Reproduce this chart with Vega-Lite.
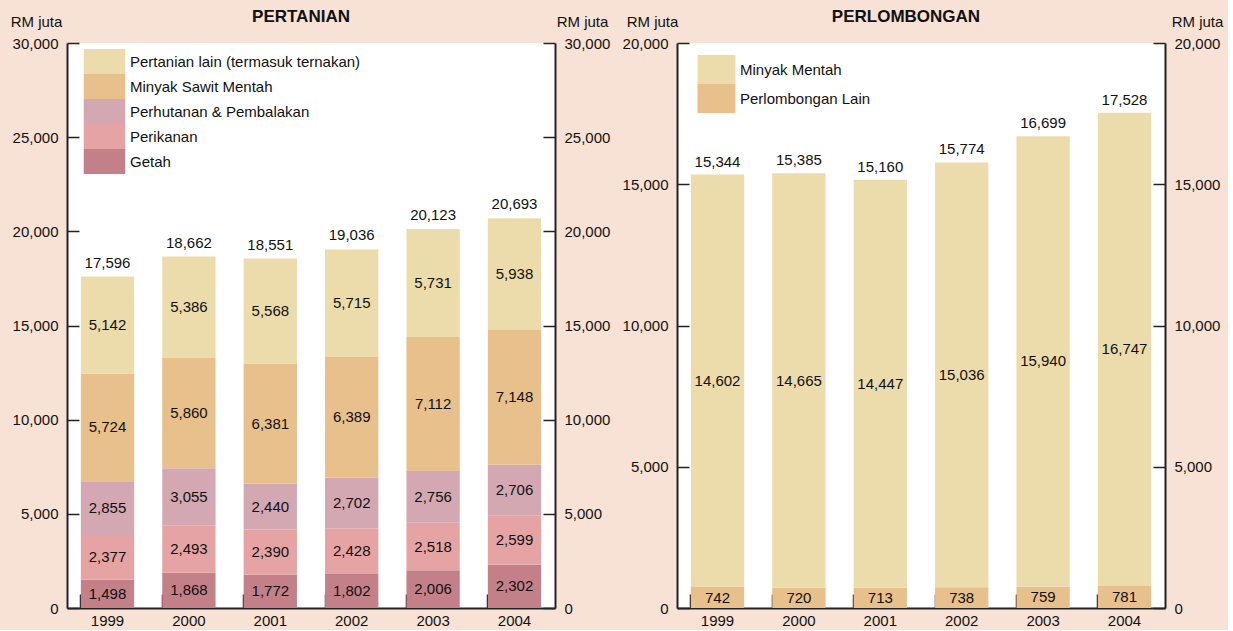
{
  "$schema": "https://vega.github.io/schema/vega-lite/v6.json",
  "background": "#f7e2d5",
  "padding": {"left": 10, "top": 8, "right": 5, "bottom": 2},
  "spacing": 12,
  "config": {
    "font": "Liberation Sans",
    "view": {"stroke": null, "fill": "white"},
    "axis": {
      "domainColor": "#222222",
      "domainWidth": 2,
      "tickColor": "#222222",
      "tickWidth": 1.5,
      "labelFont": "Liberation Sans",
      "labelFontSize": 15,
      "labelColor": "#111111",
      "labelFlush": false,
      "labelOverlap": false,
      "grid": false,
      "titleFont": "Liberation Sans",
      "titleFontSize": 15,
      "titleFontWeight": "normal",
      "titleColor": "#111111"
    },
    "legend": {
      "labelFont": "Liberation Sans",
      "labelFontSize": 15,
      "labelColor": "#111111",
      "labelLimit": 320,
      "padding": 0,
      "symbolStrokeWidth": 0,
      "symbolOpacity": 1
    },
    "title": {
      "font": "Liberation Sans",
      "fontSize": 17,
      "fontWeight": "bold",
      "color": "#111111",
      "frame": "group",
      "offset": -12,
      "anchor": "middle"
    },
    "text": {"font": "Liberation Sans", "fontSize": 15, "color": "#111111"}
  },
  "resolve": {"scale": {"color": "independent"}, "legend": {"color": "independent"}},
  "hconcat": [
    {
      "width": 488,
      "height": 565,
      "title": {"text": "PERTANIAN", "dx": -10},
      "data": {
        "values": [
          {"tahun": "1999", "jenis": "Getah", "nilai": 1498, "urutan": 1},
          {"tahun": "2000", "jenis": "Getah", "nilai": 1868, "urutan": 1},
          {"tahun": "2001", "jenis": "Getah", "nilai": 1772, "urutan": 1},
          {"tahun": "2002", "jenis": "Getah", "nilai": 1802, "urutan": 1},
          {"tahun": "2003", "jenis": "Getah", "nilai": 2006, "urutan": 1},
          {"tahun": "2004", "jenis": "Getah", "nilai": 2302, "urutan": 1},
          {"tahun": "1999", "jenis": "Perikanan", "nilai": 2377, "urutan": 2},
          {"tahun": "2000", "jenis": "Perikanan", "nilai": 2493, "urutan": 2},
          {"tahun": "2001", "jenis": "Perikanan", "nilai": 2390, "urutan": 2},
          {"tahun": "2002", "jenis": "Perikanan", "nilai": 2428, "urutan": 2},
          {"tahun": "2003", "jenis": "Perikanan", "nilai": 2518, "urutan": 2},
          {"tahun": "2004", "jenis": "Perikanan", "nilai": 2599, "urutan": 2},
          {"tahun": "1999", "jenis": "Perhutanan & Pembalakan", "nilai": 2855, "urutan": 3},
          {"tahun": "2000", "jenis": "Perhutanan & Pembalakan", "nilai": 3055, "urutan": 3},
          {"tahun": "2001", "jenis": "Perhutanan & Pembalakan", "nilai": 2440, "urutan": 3},
          {"tahun": "2002", "jenis": "Perhutanan & Pembalakan", "nilai": 2702, "urutan": 3},
          {"tahun": "2003", "jenis": "Perhutanan & Pembalakan", "nilai": 2756, "urutan": 3},
          {"tahun": "2004", "jenis": "Perhutanan & Pembalakan", "nilai": 2706, "urutan": 3},
          {"tahun": "1999", "jenis": "Minyak Sawit Mentah", "nilai": 5724, "urutan": 4},
          {"tahun": "2000", "jenis": "Minyak Sawit Mentah", "nilai": 5860, "urutan": 4},
          {"tahun": "2001", "jenis": "Minyak Sawit Mentah", "nilai": 6381, "urutan": 4},
          {"tahun": "2002", "jenis": "Minyak Sawit Mentah", "nilai": 6389, "urutan": 4},
          {"tahun": "2003", "jenis": "Minyak Sawit Mentah", "nilai": 7112, "urutan": 4},
          {"tahun": "2004", "jenis": "Minyak Sawit Mentah", "nilai": 7148, "urutan": 4},
          {"tahun": "1999", "jenis": "Pertanian lain (termasuk ternakan)", "nilai": 5142, "urutan": 5},
          {"tahun": "2000", "jenis": "Pertanian lain (termasuk ternakan)", "nilai": 5386, "urutan": 5},
          {"tahun": "2001", "jenis": "Pertanian lain (termasuk ternakan)", "nilai": 5568, "urutan": 5},
          {"tahun": "2002", "jenis": "Pertanian lain (termasuk ternakan)", "nilai": 5715, "urutan": 5},
          {"tahun": "2003", "jenis": "Pertanian lain (termasuk ternakan)", "nilai": 5731, "urutan": 5},
          {"tahun": "2004", "jenis": "Pertanian lain (termasuk ternakan)", "nilai": 5938, "urutan": 5}
        ]
      },
      "layer": [
        {
          "mark": {"type": "bar"},
          "encoding": {
            "x": {
              "field": "tahun", "type": "nominal",
              "scale": {"paddingInner": 0.345, "paddingOuter": 0.17},
              "axis": {"title": null, "labelAngle": 0, "bandPosition": 0, "tickSize": -14, "labelPadding": 19}
            },
            "y": {
              "field": "nilai", "type": "quantitative", "stack": "zero",
              "scale": {"domain": [0, 30000], "nice": false},
              "axis": {
                "orient": "left", "values": [0, 5000, 10000, 15000, 20000, 25000, 30000], "format": ",.0f",
                "tickSize": -12, "labelPadding": 21,
                "title": "RM juta", "titleAngle": 0, "titleAlign": "center", "titleBaseline": "alphabetic",
                "titleX": -31, "titleY": -17
              }
            },
            "color": {
              "field": "jenis", "type": "nominal",
              "scale": {
                "domain": ["Pertanian lain (termasuk ternakan)", "Minyak Sawit Mentah", "Perhutanan & Pembalakan", "Perikanan", "Getah"],
                "range": ["#eddcab", "#e8c08c", "#d3a8b3", "#e6a3a3", "#c48088"]
              },
              "legend": {
                "title": null, "orient": "none", "legendX": 25, "legendY": 6,
                "symbolType": "M-1.66,-1H1.66V1H-1.66Z", "symbolSize": 625,
                "labelOffset": 13, "rowPadding": 0
              }
            },
            "order": {"field": "urutan", "type": "quantitative"}
          }
        },
        {
          "mark": {"type": "text", "baseline": "middle"},
          "encoding": {
            "x": {"field": "tahun", "type": "nominal"},
            "y": {"field": "nilai", "type": "quantitative", "stack": "zero", "bandPosition": 0.5, "axis": null},
            "detail": {"field": "jenis"},
            "order": {"field": "urutan", "type": "quantitative"},
            "text": {"field": "nilai", "type": "quantitative", "format": ","}
          }
        },
        {
          "transform": [{"aggregate": [{"op": "sum", "field": "nilai", "as": "jumlah"}], "groupby": ["tahun"]}],
          "mark": {"type": "text", "baseline": "alphabetic", "dy": -9},
          "encoding": {
            "x": {"field": "tahun", "type": "nominal"},
            "y": {
              "field": "jumlah", "type": "quantitative",
              "axis": {
                "orient": "right", "values": [0, 5000, 10000, 15000, 20000, 25000, 30000], "format": ",.0f",
                "tickSize": -12, "labelPadding": 21,
                "title": "RM juta", "titleAngle": 0, "titleAlign": "center", "titleBaseline": "alphabetic",
                "titleX": 27, "titleY": -17
              }
            },
            "text": {"field": "jumlah", "type": "quantitative", "format": ","}
          }
        }
      ],
      "resolve": {"axis": {"y": "independent"}}
    },
    {
      "width": 488,
      "height": 565,
      "title": {"text": "PERLOMBONGAN", "dx": -15},
      "data": {
        "values": [
          {"tahun": "1999", "jenis": "Perlombongan Lain", "nilai": 742, "urutan": 1},
          {"tahun": "2000", "jenis": "Perlombongan Lain", "nilai": 720, "urutan": 1},
          {"tahun": "2001", "jenis": "Perlombongan Lain", "nilai": 713, "urutan": 1},
          {"tahun": "2002", "jenis": "Perlombongan Lain", "nilai": 738, "urutan": 1},
          {"tahun": "2003", "jenis": "Perlombongan Lain", "nilai": 759, "urutan": 1},
          {"tahun": "2004", "jenis": "Perlombongan Lain", "nilai": 781, "urutan": 1},
          {"tahun": "1999", "jenis": "Minyak Mentah", "nilai": 14602, "urutan": 2},
          {"tahun": "2000", "jenis": "Minyak Mentah", "nilai": 14665, "urutan": 2},
          {"tahun": "2001", "jenis": "Minyak Mentah", "nilai": 14447, "urutan": 2},
          {"tahun": "2002", "jenis": "Minyak Mentah", "nilai": 15036, "urutan": 2},
          {"tahun": "2003", "jenis": "Minyak Mentah", "nilai": 15940, "urutan": 2},
          {"tahun": "2004", "jenis": "Minyak Mentah", "nilai": 16747, "urutan": 2}
        ]
      },
      "layer": [
        {
          "mark": {"type": "bar"},
          "encoding": {
            "x": {
              "field": "tahun", "type": "nominal",
              "scale": {"paddingInner": 0.345, "paddingOuter": 0.17},
              "axis": {"title": null, "labelAngle": 0, "bandPosition": 0, "tickSize": -14, "labelPadding": 19}
            },
            "y": {
              "field": "nilai", "type": "quantitative", "stack": "zero",
              "scale": {"domain": [0, 20000], "nice": false},
              "axis": {
                "orient": "left", "values": [0, 5000, 10000, 15000, 20000], "format": ",.0f",
                "tickSize": -12, "labelPadding": 21,
                "title": "RM juta", "titleAngle": 0, "titleAlign": "center", "titleBaseline": "alphabetic",
                "titleX": -25, "titleY": -17
              }
            },
            "color": {
              "field": "jenis", "type": "nominal",
              "scale": {
                "domain": ["Minyak Mentah", "Perlombongan Lain"],
                "range": ["#eddcab", "#e8c08c"]
              },
              "legend": {
                "title": null, "orient": "none", "legendX": 25, "legendY": 12,
                "symbolType": "M-1.31,-1H1.31V1H-1.31Z", "symbolSize": 841,
                "labelOffset": 9, "rowPadding": 0
              }
            },
            "order": {"field": "urutan", "type": "quantitative"}
          }
        },
        {
          "mark": {"type": "text", "baseline": "middle"},
          "encoding": {
            "x": {"field": "tahun", "type": "nominal"},
            "y": {"field": "nilai", "type": "quantitative", "stack": "zero", "bandPosition": 0.5, "axis": null},
            "detail": {"field": "jenis"},
            "order": {"field": "urutan", "type": "quantitative"},
            "text": {"field": "nilai", "type": "quantitative", "format": ","}
          }
        },
        {
          "transform": [{"aggregate": [{"op": "sum", "field": "nilai", "as": "jumlah"}], "groupby": ["tahun"]}],
          "mark": {"type": "text", "baseline": "alphabetic", "dy": -8},
          "encoding": {
            "x": {"field": "tahun", "type": "nominal"},
            "y": {
              "field": "jumlah", "type": "quantitative",
              "axis": {
                "orient": "right", "values": [0, 5000, 10000, 15000, 20000], "format": ",.0f",
                "tickSize": -12, "labelPadding": 21,
                "title": "RM juta", "titleAngle": 0, "titleAlign": "center", "titleBaseline": "alphabetic",
                "titleX": 32, "titleY": -17
              }
            },
            "text": {"field": "jumlah", "type": "quantitative", "format": ","}
          }
        }
      ],
      "resolve": {"axis": {"y": "independent"}}
    }
  ]
}
